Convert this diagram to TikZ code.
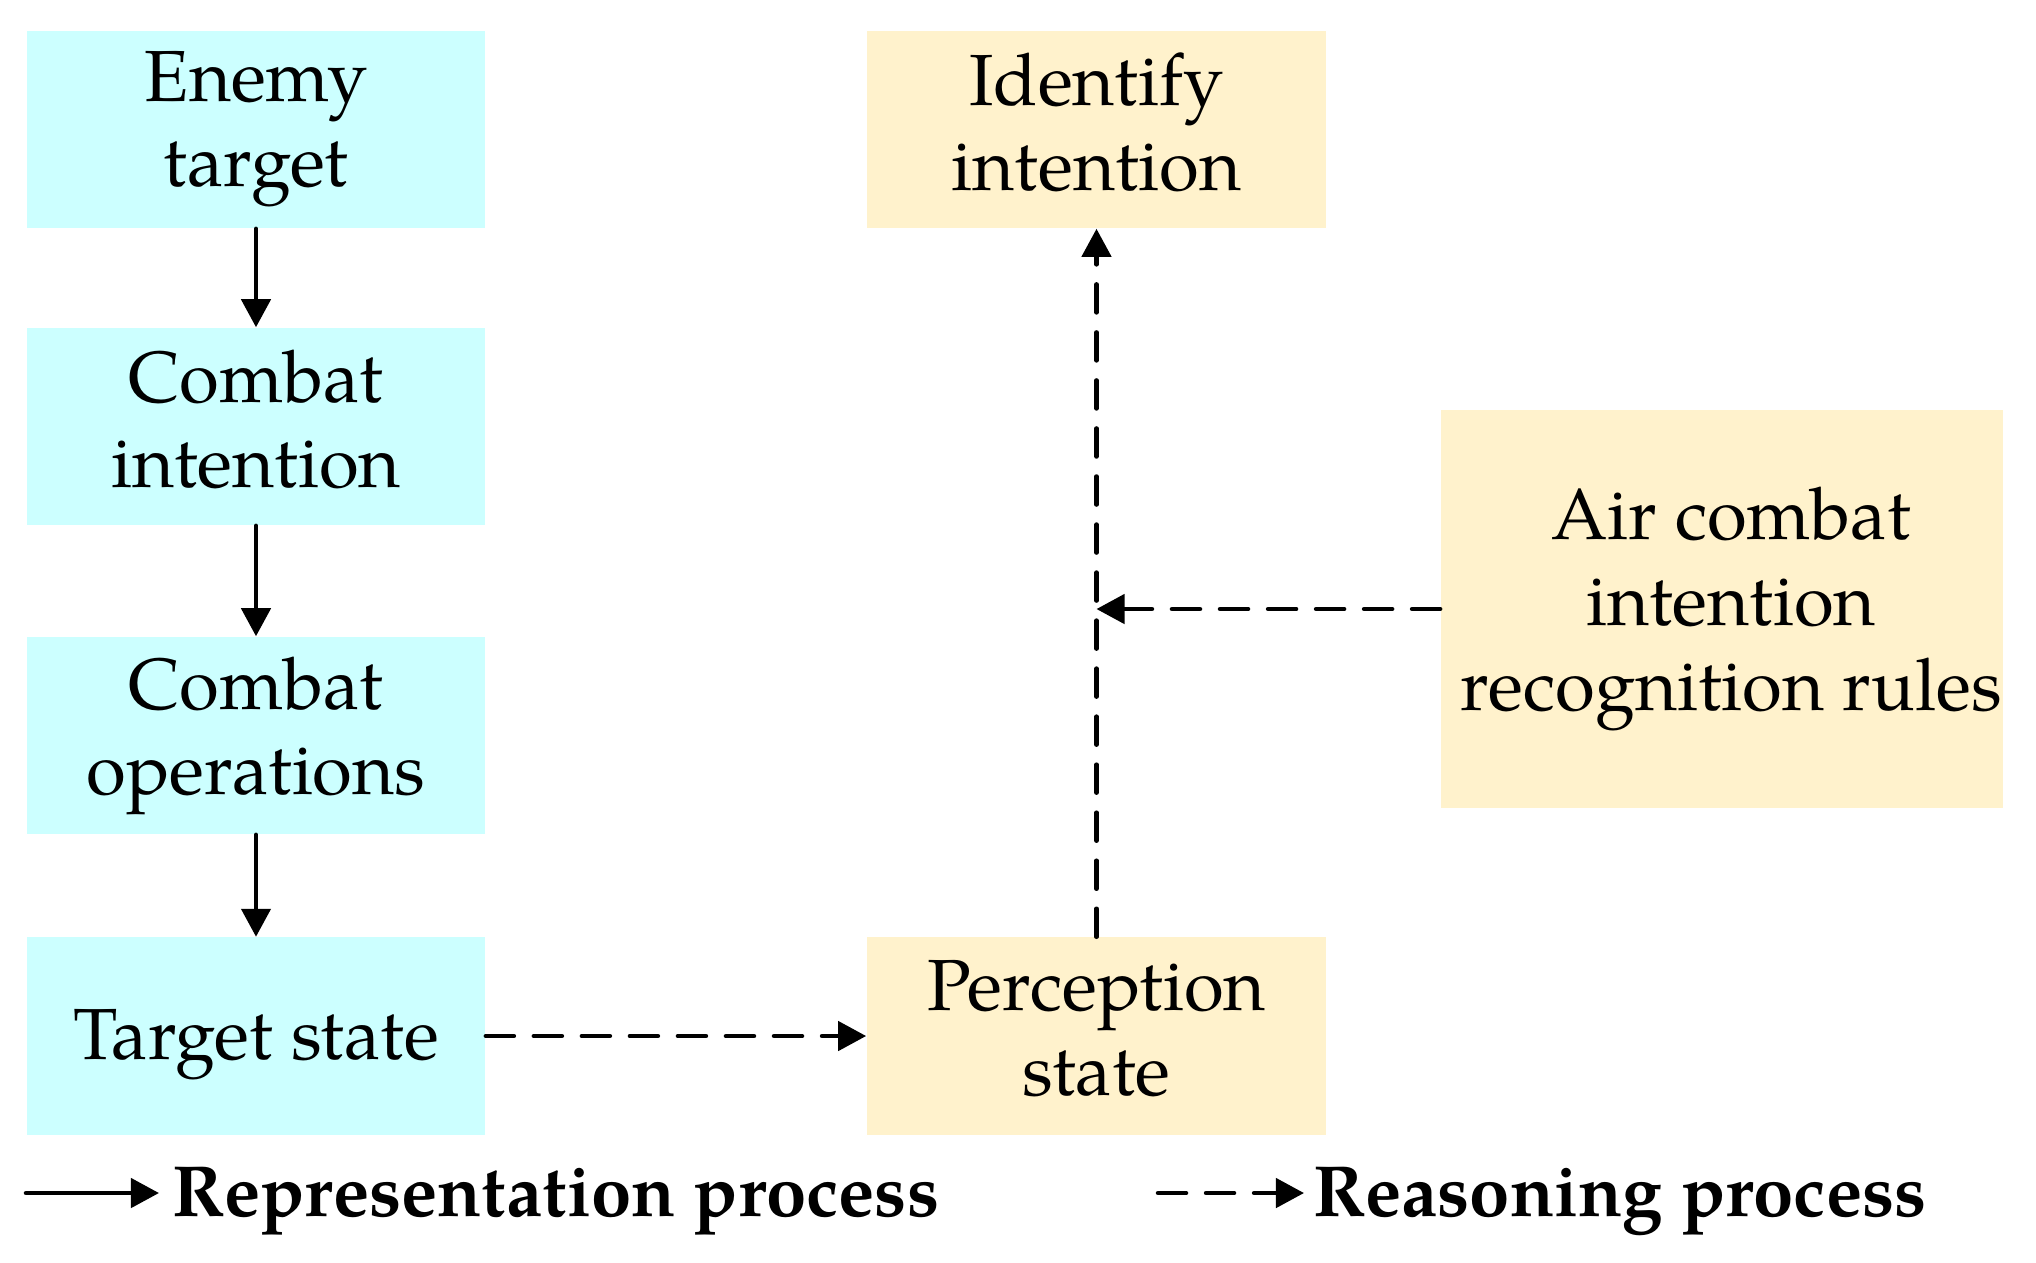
\documentclass[tikz,border=0pt]{standalone}
\usepackage{fontspec}
\setmainfont{texgyrepagella}[Extension=.otf, UprightFont=*-regular, BoldFont=*-bold, ItalicFont=*-italic, BoldItalicFont=*-bolditalic]
\usepackage{tikz}
\usetikzlibrary{positioning}
\usetikzlibrary{arrows.meta}
\definecolor{boxcyan}{RGB}{204,255,255}
\definecolor{boxtan}{RGB}{255,242,204}

\begin{document}
\begin{tikzpicture}[
          x=0.01cm, y=-0.01cm, % 1 个单位 = 参考图的 1 像素
          every node/.style={font=\fontsize{20.6}{24.2}\selectfont, align=center, inner sep=0pt},
          boxtext/.style={execute at begin node=\rule{0pt}{0.68cm}, execute at end node=\rule[-0.16cm]{0pt}{0.16cm}},
          repbox/.style={boxtext, fill=boxcyan, minimum width=4.58cm, minimum height=1.97cm},
          reabox/.style={boxtext, fill=boxtan, minimum width=4.59cm, minimum height=1.97cm},
          solidarrow/.style={line width=1.28pt, line cap=round, -{Triangle[length=0.28cm, width=0.29cm]}},
          dasharrow/.style={solidarrow, dash pattern=on 0.28cm off 0.2cm},
          legtext/.style={font=\fontsize{20.6}{24.2}\selectfont\bfseries, anchor=base west}
      ]
        \useasboundingbox (0,0) rectangle (2036,1262);
        % 左列: 表示过程
        \node[repbox] (enemy)   at (256,129.5)  {Enemy\\target};
        \node[repbox] (cintent) at (256,426.5)  {Combat\\intention};
        \node[repbox] (cops)    at (256,735.5)  {Combat\\operations};
        \node[repbox] (tstate)  at (256,1036)   {Target state};
        \draw[solidarrow] (enemy) -- (cintent);
        \draw[solidarrow] (cintent) -- (cops);
        \draw[solidarrow] (cops) -- (tstate);
        % 右侧: 推理过程
        \node[reabox] (ident)  at (1096.5,129.5) {Identify\\intention};
        \node[reabox] (pstate) at (1096.5,1036)  {Perception\\state};
        \node[reabox, minimum width=5.62cm, minimum height=3.98cm] (rules) at (1722,609)
            {\hspace*{0.18cm}Air combat\\\hspace*{0.18cm}intention\\\hspace*{0.18cm}recognition rules};
        \draw[dasharrow] (tstate) -- (pstate);
        \draw[dasharrow] (pstate) -- (ident);
        \coordinate (joint) at (ident.south |- rules.west);
        \draw[dasharrow] (rules) -- (joint);
        % 图例
        \coordinate (repS) at (26,1193);
        \coordinate (repE) at (159,1193);
        \draw[solidarrow] (repS) -- (repE);
        \node[legtext] (repLbl) at (172,1216.5) {Representation process};
        \coordinate (reaS) at (1158,1193);
        \coordinate (reaE) at (1304,1193);
        \draw[dasharrow] (reaS) -- (reaE);
        \node[legtext] (reaLbl) at (1313,1216.5) {Reasoning process};
      \end{tikzpicture}
\end{document}
